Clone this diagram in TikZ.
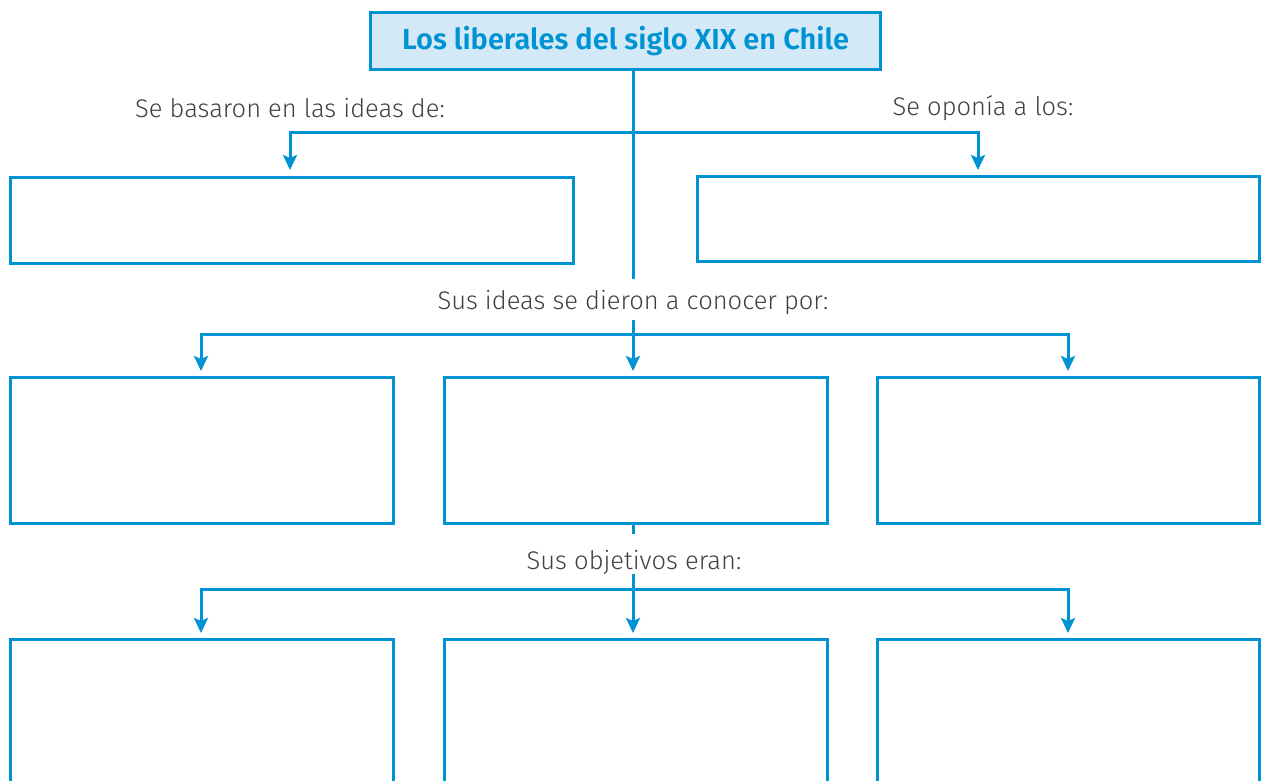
\documentclass[tikz,border=0pt]{standalone}
\usepackage{fontspec}
\setmainfont{Fira Sans}[UprightFont=* Light, BoldFont=* SemiBold]
\usetikzlibrary{arrows.meta}
\definecolor{cblue}{HTML}{0093D3}
\definecolor{cfill}{HTML}{D3E9F7}
\definecolor{ctext}{HTML}{404040}
\begin{document}
\begin{tikzpicture}[x=1pt,y=-1pt,
  box/.style={draw=cblue,line width=3pt,inner sep=0pt,anchor=north west},
  lbl/.style={text=ctext,font=\fontsize{25.5}{30}\selectfont,inner sep=0pt},
  conn/.style={draw=cblue,line width=3pt},
  arr/.style={conn,-{Stealth[length=15pt,width=14pt,inset=3pt]}}]
\useasboundingbox (0,0) rectangle (1261,780);
\clip (0,0) rectangle (1261,780);
% title
\node[draw=cblue,fill=cfill,line width=3pt,minimum width=510pt,minimum height=57pt,inner sep=0pt,
      text=cblue,font=\fontsize{29}{33}\selectfont\bfseries] (title) at (625.5,41) {Los liberales del siglo XIX en Chile};
% labels
\node[lbl] (la) at (290,108) {Se basaron en las ideas de:};
\node[lbl] (lb) at (983,108) {Se oponía a los:};
\node[lbl] (lc) at (633,303) {Sus ideas se dieron a conocer por:};
\node[lbl] (ld) at (634,562) {Sus objetivos eran:};
% boxes
\node[box,minimum width=563pt,minimum height=86pt] (a1) at (9,176) {};
\node[box,minimum width=562pt,minimum height=85pt] (a2) at (696,175) {};
\node[box,minimum width=383pt,minimum height=146pt] (b1) at (9,376) {};
\node[box,minimum width=383pt,minimum height=146pt] (b2) at (443,376) {};
\node[box,minimum width=382pt,minimum height=146pt] (b3) at (876,376) {};
\node[box,minimum width=383pt,minimum height=200pt] (c1) at (9,638) {};
\node[box,minimum width=383pt,minimum height=200pt] (c2) at (443,638) {};
\node[box,minimum width=382pt,minimum height=200pt] (c3) at (876,638) {};
% coordinates
\coordinate (jt) at (633,132);
\coordinate (e1) at (633,279);
\coordinate (ta1) at (290,170);
\coordinate (ta2) at (978,170);
\coordinate (e2) at (633,320);
\coordinate (jm) at (633,334);
\coordinate (tb1) at (201,371);
\coordinate (tb2) at (633,371);
\coordinate (tb3) at (1068,371);
\coordinate (e3) at (633,534);
\coordinate (e4) at (633,574);
\coordinate (jb) at (633,589);
\coordinate (tc1) at (201,633);
\coordinate (tc2) at (633,633);
\coordinate (tc3) at (1068,633);
% connectors
\draw[conn] (title.south -| jt) -- (e1);
\draw[arr] (jt) -| (ta1);
\draw[arr] (jt) -| (ta2);
\draw[conn] (e2) -- (jm);
\draw[arr] (jm) -| (tb1);
\draw[arr] (jm) -- (tb2);
\draw[arr] (jm) -| (tb3);
\draw[conn] (b2.south -| jm) -- (e3);
\draw[conn] (e4) -- (jb);
\draw[arr] (jb) -| (tc1);
\draw[arr] (jb) -- (tc2);
\draw[arr] (jb) -| (tc3);
\end{tikzpicture}
\end{document}
